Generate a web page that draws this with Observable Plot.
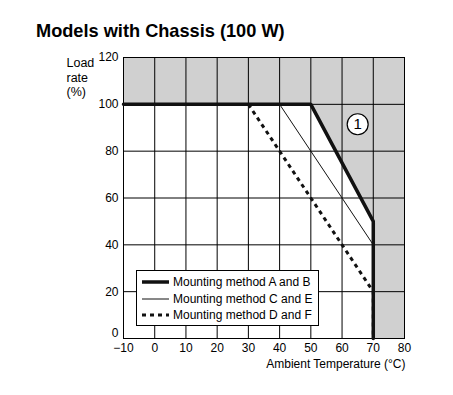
<!DOCTYPE html>
<html><head><meta charset="utf-8">
<script src="https://cdn.jsdelivr.net/npm/d3@7"></script>
<script src="https://cdn.jsdelivr.net/npm/@observablehq/plot@0.6"></script>
<style>
body{margin:0;background:#fff;font-family:"Liberation Sans",Arial,sans-serif;}
#wrap{position:relative;width:453px;height:395px;}
#title{position:absolute;left:36px;top:21px;font-size:18.2px;line-height:21px;font-weight:bold;color:#000;white-space:nowrap;}
#chart{position:absolute;left:0;top:45px;}
#legend{position:absolute;left:136px;top:270px;width:181px;height:54px;border:1px solid #000;background:#fff;font-size:12px;}
#legend .row{position:absolute;left:5px;height:16px;display:flex;align-items:center;}
#legend .row span{margin-left:4px;color:#000;white-space:nowrap;}
</style></head>
<body>
<div id="wrap">
<div id="title">Models with Chassis (100 W)</div>
<div id="chart"></div>
<div id="legend"></div>
</div>
<script>
const seriesNames = ["Mounting method A and B", "Mounting method C and E", "Mounting method D and F"];
const xAB = [-10, 50, 70, 70];
const yAB = [100, 100, 50, 0];
const xCE = [40, 70, 70];
const yCE = [100, 40, 0];
const xDF = [30, 70, 70];
const yDF = [100, 20, 0];
const regionX = [-10, 50, 70, 70, 80];
const regionLow = [100, 100, 50, 0, 0];
const regionHigh = 120;
const xTicks = [-10, 0, 10, 20, 30, 40, 50, 60, 70, 80];
const yTicks = [0, 20, 40, 60, 80, 100, 120];
const noteX = [65], noteY = [91.5], noteLabel = ["1"];

const styles = [
  {strokeWidth: 3.5, dash: null},
  {strokeWidth: 1, dash: null},
  {strokeWidth: 3, dash: "4,4"}
];

const toRows = (xs, ys) => xs.map((x, i) => ({x, y: ys[i]}));
const region = regionX.map((x, i) => ({x, y1: regionLow[i], y2: regionHigh}));

const plot = Plot.plot({
  width: 453, height: 350,
  marginLeft: 123, marginRight: 49, marginTop: 12, marginBottom: 57,
  style: {fontFamily: "'Liberation Sans', Arial, sans-serif", fontSize: "12px", color: "#000", background: "#fff"},
  x: {domain: [-10, 80]},
  y: {domain: [0, 120]},
  marks: [
    Plot.areaY(region, {x: "x", y1: "y1", y2: "y2", fill: "#d0d0d0", curve: "linear"}),
    Plot.gridX(xTicks, {stroke: "#000", strokeOpacity: 1, strokeWidth: 1}),
    Plot.gridY(yTicks, {stroke: "#000", strokeOpacity: 1, strokeWidth: 1}),
    Plot.frame({stroke: "#000"}),
    Plot.axisX(xTicks, {tickSize: 0, tickPadding: 5, fontSize: 12, label: null, fill: "#000", tickFormat: d => d < 0 ? "\u2212" + Math.abs(d) : String(d)}),
    Plot.axisY(yTicks.filter(d => d > 0), {tickSize: 0, tickPadding: 5, fontSize: 12, label: null, fill: "#000"}),
    Plot.axisY(yTicks.filter(d => d === 0), {tickSize: 0, tickPadding: 5, fontSize: 12, label: null, fill: "#000", dy: -5}),
    Plot.line(toRows(xDF, yDF), {x: "x", y: "y", stroke: "#111", strokeWidth: styles[2].strokeWidth, strokeDasharray: styles[2].dash, strokeLinecap: "butt"}),
    Plot.line(toRows(xCE, yCE), {x: "x", y: "y", stroke: "#111", strokeWidth: styles[1].strokeWidth}),
    Plot.line(toRows(xAB, yAB), {x: "x", y: "y", stroke: "#111", strokeWidth: styles[0].strokeWidth, strokeLinejoin: "miter"}),
    Plot.dot(noteX.map((x, i) => ({x, y: noteY[i]})), {x: "x", y: "y", r: 10.5, fill: "#fff", stroke: "#000", strokeWidth: 1.2}),
    Plot.text(noteX.map((x, i) => ({x, y: noteY[i], t: noteLabel[i]})), {x: "x", y: "y", text: "t", fontSize: 15, fill: "#000"}),
    Plot.text(["Load\nrate\n(%)"], {frameAnchor: "top-left", dx: -57, dy: -1, textAnchor: "start", lineAnchor: "top", lineHeight: 1.18, fontSize: 12.5, fill: "#000"}),
    Plot.text(["Ambient Temperature (°C)"], {frameAnchor: "bottom-right", dx: 1, dy: 29, textAnchor: "end", lineAnchor: "bottom", fontSize: 12, fill: "#000"})
  ]
});
document.getElementById("chart").appendChild(plot);

const legend = document.getElementById("legend");
seriesNames.forEach((name, i) => {
  const row = document.createElement("div");
  row.className = "row";
  row.style.top = (3 + i * 16.7) + "px";
  const s = styles[i];
  row.innerHTML = `<svg width="27" height="8"><line x1="0" x2="27" y1="4" y2="4" stroke="#111" stroke-width="${s.strokeWidth}" ${s.dash ? `stroke-dasharray="${s.dash}"` : ""}/></svg><span>${name}</span>`;
  legend.appendChild(row);
});
</script>
</body></html>
